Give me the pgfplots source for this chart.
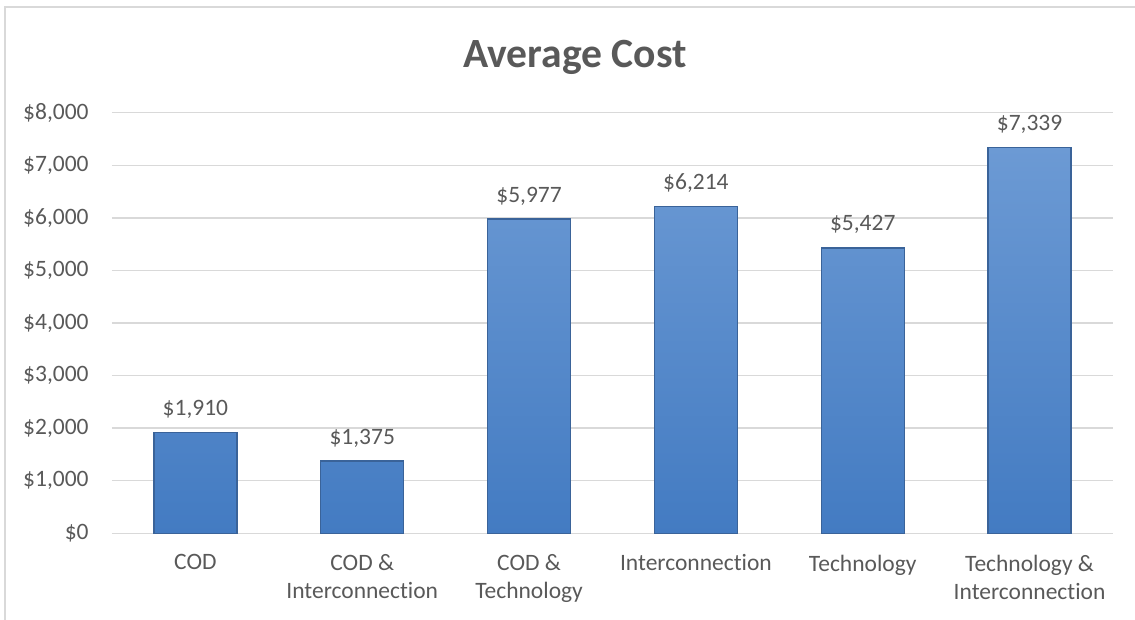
\documentclass[border=0pt]{standalone}
\usepackage{pgfplots}
\pgfplotsset{compat=1.18}
\usepackage{fontspec}
\setmainfont[Ligatures={NoCommon},RawFeature={-liga;-clig}]{Carlito}
\newcommand{\IC}{Interconnec\kern0pt tion}
\definecolor{txt}{HTML}{595959}
\definecolor{gridc}{HTML}{D9D9D9}
\definecolor{bartop}{HTML}{6C9AD4}
\definecolor{barbot}{HTML}{437BC2}
\definecolor{baredge}{HTML}{3A6399}
\begin{document}
\begin{tikzpicture}
\useasboundingbox (0,0) rectangle (567.5pt,310pt);
\draw[gridc, line width=0.75pt] (2.5pt,0pt) -- (2.5pt,306.5pt) -- (567.5pt,306.5pt);
\node[font=\fontsize{20.8}{25}\selectfont\bfseries, text=txt, anchor=base] at (287.5pt,276pt) {Average Cost};
\begin{axis}[
  at={(56pt,43.35pt)}, anchor=south west,
  scale only axis, width=500.5pt, height=210.3pt,
  xmin=-0.5, xmax=5.5, ymin=0, ymax=8000,
  ybar, bar width=41.5pt,
  ytick={0,1000,2000,3000,4000,5000,6000,7000,8000},
  yticklabels={{\$0},{\$1,000},{\$2,000},{\$3,000},{\$4,000},{\$5,000},{\$6,000},{\$7,000},{\$8,000}},
  xtick={0,1,2,3,4,5},
  xticklabels={COD,{COD \&\\\IC},{COD \&\\Technology},{\IC},Technology,{Technology \&\\\IC}},
  axis line style={draw=none},
  major tick length=0pt,
  ymajorgrids,
  grid style={gridc, line width=0.75pt},
  tick label style={font=\fontsize{11.75}{14}\selectfont, text=txt},
  yticklabel style={inner sep=0pt, anchor=east, xshift=-11.5pt},
  xticklabel style={inner sep=0pt, anchor=north, yshift=-10.5pt, align=center},
  point meta=explicit symbolic,
  nodes near coords,
  every node near coord/.append style={font=\fontsize{11.75}{14}\selectfont, text=txt, anchor=base, inner sep=0pt, yshift=8.5pt},
  clip=false,
]
\addplot[top color=bartop, bottom color=barbot, draw=baredge, line width=0.6pt] coordinates {
  (0,1910) [\$1,910]
  (1,1375) [\$1,375]
  (2,5977) [\$5,977]
  (3,6214) [\$6,214]
  (4,5427) [\$5,427]
  (5,7339) [\$7,339]
};
\end{axis}
\end{tikzpicture}
\end{document}
